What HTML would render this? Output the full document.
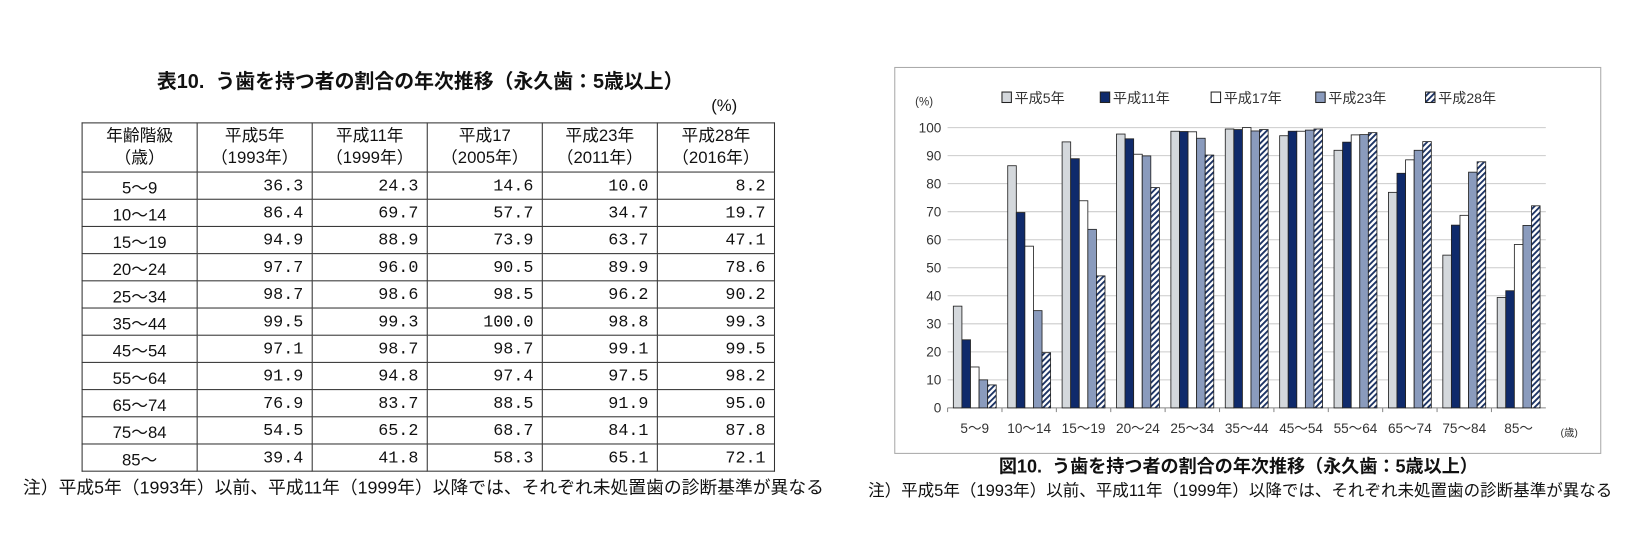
<!DOCTYPE html>
<html><head><meta charset="utf-8"><style>
body{margin:0;width:1640px;height:540px;background:#fff;overflow:hidden}
#w{position:absolute;left:0;top:0;width:1568px;height:517px;transform:scale(1.0459);transform-origin:0 0;font-family:"Liberation Sans","Noto Sans CJK JP",sans-serif;color:#111}
.t{position:absolute;white-space:nowrap}
table{position:absolute;left:78px;top:117px;border-collapse:collapse;font-size:16px}
td{border:1.5px solid #333;height:25px;padding:0 8px;text-align:right;font-family:"Liberation Mono","Noto Sans CJK JP",monospace}
td:first-child{text-align:center;font-family:"Liberation Sans","Noto Sans CJK JP",sans-serif}
tr.h td{height:46px;text-align:center;line-height:21px;font-family:"Liberation Sans","Noto Sans CJK JP",sans-serif}
</style></head><body><div id="w">
<div class="t" style="left:150px;top:63px;font-size:19px;font-weight:bold">表10.&nbsp; う歯を持つ者の割合の年次推移（永久歯：5歳以上）</div>
<div class="t" style="left:680px;top:93px;font-size:16px">(%)</div>
<table>
<colgroup><col style="width:110px"><col style="width:110px"><col style="width:110px"><col style="width:110px"><col style="width:110px"><col style="width:112px"></colgroup>
<tr class="h"><td>年齢階級<br>（歳）</td><td>平成5年<br>（1993年）</td><td>平成11年<br>（1999年）</td><td>平成17<br>（2005年）</td><td>平成23年<br>（2011年）</td><td>平成28年<br>（2016年）</td></tr>
<tr><td>5～9</td><td>36.3</td><td>24.3</td><td>14.6</td><td>10.0</td><td>8.2</td></tr>
<tr><td>10～14</td><td>86.4</td><td>69.7</td><td>57.7</td><td>34.7</td><td>19.7</td></tr>
<tr><td>15～19</td><td>94.9</td><td>88.9</td><td>73.9</td><td>63.7</td><td>47.1</td></tr>
<tr><td>20～24</td><td>97.7</td><td>96.0</td><td>90.5</td><td>89.9</td><td>78.6</td></tr>
<tr><td>25～34</td><td>98.7</td><td>98.6</td><td>98.5</td><td>96.2</td><td>90.2</td></tr>
<tr><td>35～44</td><td>99.5</td><td>99.3</td><td>100.0</td><td>98.8</td><td>99.3</td></tr>
<tr><td>45～54</td><td>97.1</td><td>98.7</td><td>98.7</td><td>99.1</td><td>99.5</td></tr>
<tr><td>55～64</td><td>91.9</td><td>94.8</td><td>97.4</td><td>97.5</td><td>98.2</td></tr>
<tr><td>65～74</td><td>76.9</td><td>83.7</td><td>88.5</td><td>91.9</td><td>95.0</td></tr>
<tr><td>75～84</td><td>54.5</td><td>65.2</td><td>68.7</td><td>84.1</td><td>87.8</td></tr>
<tr><td>85～</td><td>39.4</td><td>41.8</td><td>58.3</td><td>65.1</td><td>72.1</td></tr>
</table>
<div class="t" style="left:22px;top:452px;font-size:17px">注）平成5年（1993年）以前、平成11年（1999年）以降では、それぞれ未処置歯の診断基準が異なる</div>

<svg style="position:absolute;left:0;top:0" width="1568" height="517" id="s"></svg>
<div class="t" style="left:955px;top:432px;font-size:17.3px;font-weight:bold">図10.&nbsp; う歯を持つ者の割合の年次推移（永久歯：5歳以上）</div>
<div class="t" style="left:830px;top:456px;font-size:15.8px">注）平成5年（1993年）以前、平成11年（1999年）以降では、それぞれ未処置歯の診断基準が異なる</div>
</div>
<script>
const d=[[36.3,24.3,14.6,10.0,8.2],[86.4,69.7,57.7,34.7,19.7],[94.9,88.9,73.9,63.7,47.1],[97.7,96.0,90.5,89.9,78.6],[98.7,98.6,98.5,96.2,90.2],[99.5,99.3,100,98.8,99.3],[97.1,98.7,98.7,99.1,99.5],[91.9,94.8,97.4,97.5,98.2],[76.9,83.7,88.5,91.9,95.0],[54.5,65.2,68.7,84.1,87.8],[39.4,41.8,58.3,65.1,72.1]];
const labs=["5～9","10～14","15～19","20～24","25～34","35～44","45～54","55～64","65～74","75～84","85～"];
const fills=["#d4d8dc","#0f2a6b","#fff","#8a9bbd","url(#h)"];
let s=`<defs><pattern id="h" width="4" height="4" patternUnits="userSpaceOnUse" patternTransform="rotate(45)"><rect width="4" height="4" fill="#fff"/><rect width="1.8" height="4" fill="#1e3566"/></pattern></defs>`;
s+=`<rect x="855.5" y="64.5" width="675" height="369" fill="none" stroke="#aaa"/>`;
const L=906,R=1478,T=122,B=390,cw=(R-L)/11;
for(let i=0;i<=10;i++){const y=B-i*(B-T)/10;s+=`<line x1="${L}" x2="${R}" y1="${y}" y2="${y}" stroke="${i?'#ccc':'#888'}"/><text x="${L-6}" y="${y+4.5}" text-anchor="end" font-size="13" fill="#333">${i*10}</text>`;}
s+=`<text x="875" y="101" font-size="11" fill="#333">(%)</text>`;
d.forEach((g,i)=>{const x0=L+i*cw+5.5;g.forEach((v,j)=>{const h=v*(B-T)/100;s+=`<rect x="${x0+j*8.2}" y="${B-h}" width="8.2" height="${h}" fill="${fills[j]}" stroke="#222" stroke-width="0.8"/>`});
s+=`<text x="${L+i*cw+cw/2}" y="414" text-anchor="middle" font-size="13" fill="#333">${labs[i]}</text><line x1="${L+i*cw}" x2="${L+i*cw}" y1="${B}" y2="${B+4}" stroke="#888"/>`;});
s+=`<text x="1492" y="417" font-size="10" fill="#333">(歳)</text>`;
const lx=[958,1052,1158,1258,1363],ln=["平成5年","平成11年","平成17年","平成23年","平成28年"];
lx.forEach((x,j)=>{s+=`<rect x="${x}" y="88" width="9" height="10" fill="${fills[j]}" stroke="#222"/><text x="${x+12}" y="98.5" font-size="13.5" fill="#333">${ln[j]}</text>`});
document.getElementById('s').innerHTML=s;
</script>
</body></html>
